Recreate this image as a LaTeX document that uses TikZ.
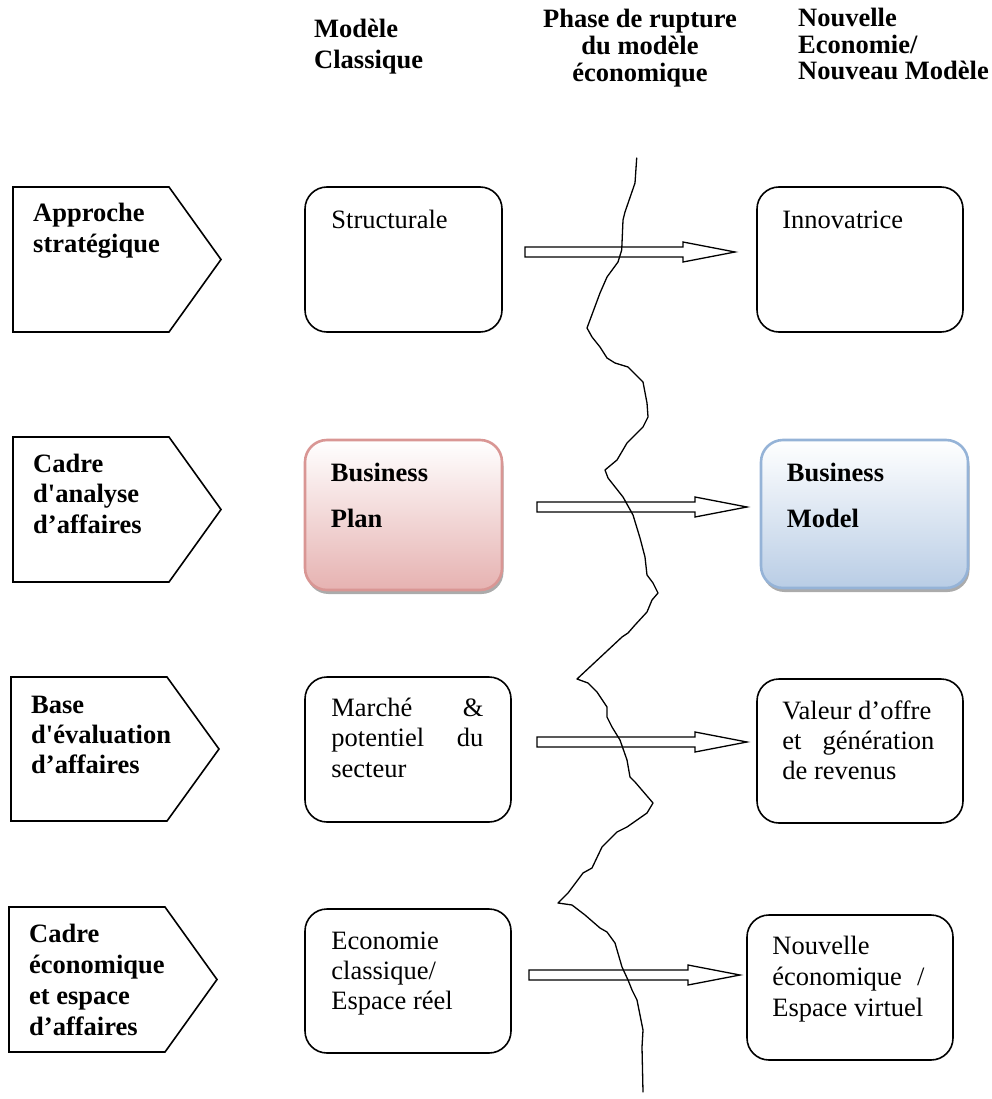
\documentclass[tikz,border=0pt]{standalone}
\usepackage{fontspec}
\newfontfamily\tnr{Liberation Serif}[Ligatures=TeXOff]
\usetikzlibrary{calc,shadows}
\definecolor{pinkB}{HTML}{E6B2B1}
\definecolor{pinkD}{HTML}{D99694}
\definecolor{blueB}{HTML}{B9CDE5}
\definecolor{blueD}{HTML}{95B3D7}
\newcommand\Lft[2]{\vtop{\baselineskip=#1\lineskiplimit=-1000pt\lineskip=0pt\halign{##\hfil\cr#2\crcr}}}
\newcommand\Ctr[2]{\vtop{\baselineskip=#1\lineskiplimit=-1000pt\lineskip=0pt\halign{\hfil##\hfil\cr#2\crcr}}}
\newcommand\JL[1]{\hbox to 152pt{#1}}
\newcommand\myBlockArrow[2]{\draw[blockarr] ($(#1)+(0,-5)$) -- ($(#2)+(-52,-5)$) -- ($(#2)+(-52,-10)$) -- (#2) -- ($(#2)+(-52,10)$) -- ($(#2)+(-52,5)$) -- ($(#1)+(0,5)$) -- cycle;}
\tikzset{
  txt/.style={font=\tnr\fontsize{26.5pt}{31pt}\selectfont, inner sep=0pt, anchor=base west},
  btxt/.style={txt, font=\tnr\bfseries\fontsize{26.5pt}{31pt}\selectfont},
  box/.style={draw, line width=1.6pt, rounded corners=22pt, inner sep=0pt},
  pinkbox/.style={box, draw=pinkD, line width=2.6pt, top color=white, bottom color=pinkB,
     drop shadow={shadow xshift=1.5pt, shadow yshift=-4pt, fill=black!55, opacity=0.6}},
  bluebox/.style={box, draw=blueD, line width=2.6pt, top color=white, bottom color=blueB,
     drop shadow={shadow xshift=1.5pt, shadow yshift=-4pt, fill=black!55, opacity=0.6}},
  pent/.style={draw, line width=1.6pt, line join=miter},
  blockarr/.style={draw, fill=white, line width=1.3pt, line join=miter},
  wave/.style={draw, line width=1.3pt, line join=round, line cap=round}
}
\begin{document}
\begin{tikzpicture}[x=1pt,y=-1pt]
\useasboundingbox (0,0) rectangle (991,1099);
% headers
\node[btxt] (h1) at (314,38) {\Lft{30.5pt}{Modèle\cr Classique}};
\node[btxt, anchor=base] (h2) at (640,28) {\Ctr{27pt}{Phase de rupture\cr du modèle\cr économique}};
\node[btxt] (h3) at (798,27) {\Lft{26.5pt}{Nouvelle\cr Economie/\cr Nouveau Modèle}};
% left pentagons
\draw[pent] (13,187) -- (169,187) -- (221,259.5) -- (169,332) -- (13,332) -- cycle;
\draw[pent] (13,437) -- (169,437) -- (221,509.5) -- (169,582) -- (13,582) -- cycle;
\draw[pent] (11,677) -- (167,677) -- (219,749) -- (167,821) -- (11,821) -- cycle;
\draw[pent] (9,907) -- (165,907) -- (217,979.5) -- (165,1052) -- (9,1052) -- cycle;
\node[btxt] (l1) at (33,222) {\Lft{31pt}{Approche\cr stratégique}};
\node[btxt] (l2) at (33,472) {\Lft{30.5pt}{Cadre\cr d'analyse\cr d’affaires}};
\node[btxt] (l3) at (31,713) {\Lft{30pt}{Base\cr d'évaluation\cr d’affaires}};
\node[btxt] (l4) at (29,942) {\Lft{31pt}{Cadre\cr économique\cr et espace\cr d’affaires}};
% middle boxes
\node[box, minimum width=197pt, minimum height=145pt] (b1) at (403.5,259.5) {};
\node[pinkbox, minimum width=197pt, minimum height=150pt] (b2) at (403.5,515) {};
\node[box, minimum width=206pt, minimum height=145pt] (b3) at (408,749.5) {};
\node[box, minimum width=206pt, minimum height=144pt] (b4) at (408,981) {};
% right boxes
\node[box, minimum width=206pt, minimum height=145pt] (r1) at (860,259.5) {};
\node[bluebox, minimum width=207pt, minimum height=148pt] (r2) at (864.5,514) {};
\node[box, minimum width=206pt, minimum height=144pt] (r3) at (860,751) {};
\node[box, minimum width=206pt, minimum height=145pt] (r4) at (850,987.5) {};
% box texts
\node[txt] (t1) at ($(b1.north west)+(27,42)$) {Structurale};
\node[btxt] (t2) at ($(b2.north west)+(27,43)$) {\Lft{46pt}{Business\cr Plan}};
\node[txt] (t3) at ($(b3.north west)+(27,40)$) {\Lft{30.5pt}{\JL{Marché\hfill\&}\cr \JL{potentiel\hfill du}\cr secteur}};
\node[txt] (t4) at ($(b4.north west)+(27,41)$) {\Lft{30pt}{Economie\cr classique/\cr Espace réel}};
\node[txt] (u1) at ($(r1.north west)+(26,42)$) {Innovatrice};
\node[btxt] (u2) at ($(r2.north west)+(27,43)$) {\Lft{46pt}{Business\cr Model}};
\node[txt] (u3) at ($(r3.north west)+(26,41)$) {\Lft{30pt}{Valeur d’offre\cr \JL{et\hfill génération}\cr de revenus}};
\node[txt] (u4) at ($(r4.north west)+(26,40)$) {\Lft{31pt}{Nouvelle\cr \JL{économique\hfill /}\cr Espace virtuel}};
% block arrows
\coordinate (a1s) at (525,252); \coordinate (a1e) at (735,252);
\coordinate (a2s) at (537,507); \coordinate (a2e) at (747,507);
\coordinate (a3s) at (537,742); \coordinate (a3e) at (747,742);
\coordinate (a4s) at (529,975); \coordinate (a4e) at (740,975);
\myBlockArrow{a1s}{a1e}
\myBlockArrow{a2s}{a2e}
\myBlockArrow{a3s}{a3e}
\myBlockArrow{a4s}{a4e}
% rupture line
\draw[wave] plot coordinates {(636.7,158) (635,183) (625,212) (623,220) (621.7,250) (618,262) (607,277) (600,293) (587,328) (592,337) (600,347) (607,358) (615,363) (628,367) (643,382) (647,403) (648,417) (643,427) (627,443) (617,460) (605,470) (608,478) (623,497) (633,515) (640,538) (645,557) (647,575) (653,583) (658,593) (652,600) (647,612) (635,625) (628,633) (622,637) (577,679) (588,683) (597,692) (607,707) (607,717) (612,727) (620,740) (627,760) (630,777) (635,782) (653,803) (647,813) (627,827) (617,832) (602,847) (592,868) (583,873) (568,893) (558,903) (572,905) (585,915) (600,928) (607,932) (615,943) (622,967) (628,980) (632,990) (637,1000) (643,1030) (642,1047) (643,1092)};
\end{tikzpicture}
\end{document}
